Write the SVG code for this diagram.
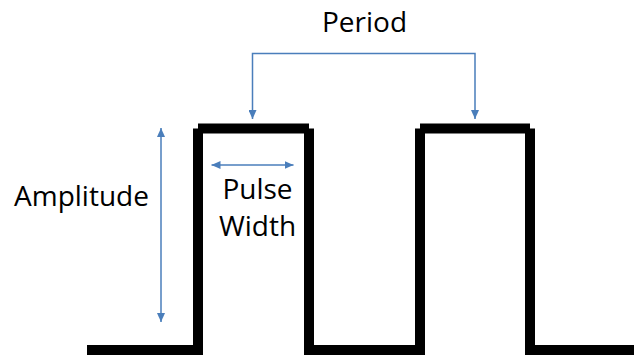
<svg xmlns="http://www.w3.org/2000/svg" width="634" height="356" viewBox="0 0 634 356">
  <style>
    .wave { stroke: #000; stroke-width: 10; stroke-linecap: butt; fill: none; }
    .dim { stroke: #4a7ebb; stroke-width: 1.5; fill: none; }
    .label { font-family: "Open Sans", "Liberation Sans", sans-serif; font-size: 28px; fill: #000; }
  </style>
  <defs>
    <marker id="tip" viewBox="0 0 9 8" refX="9" refY="4" markerWidth="9" markerHeight="8" markerUnits="userSpaceOnUse" orient="auto-start-reverse">
      <path d="M0,0 L9,4 L0,8 z" fill="#4a7ebb"/>
    </marker>
  </defs>

  <!-- square wave -->
  <g id="waveform">
    <line class="wave" x1="87" y1="350" x2="198" y2="350"/>
    <line class="wave" x1="198" y1="128.5" x2="198" y2="355"/>
    <line class="wave" x1="198" y1="128.5" x2="309" y2="128.5"/>
    <line class="wave" x1="309" y1="128.5" x2="309" y2="355"/>
    <line class="wave" x1="309" y1="350" x2="420" y2="350"/>
    <line class="wave" x1="420" y1="128.5" x2="420" y2="355"/>
    <line class="wave" x1="420" y1="128.5" x2="530" y2="128.5"/>
    <line class="wave" x1="530" y1="128.5" x2="530" y2="355"/>
    <line class="wave" x1="530" y1="350" x2="634" y2="350"/>
  </g>

  <!-- dimension connectors -->
  <g id="connectors">
    <path class="dim" d="M252.5,119 V53.5 H475 V119" marker-start="url(#tip)" marker-end="url(#tip)"/>
    <line class="dim" x1="161" y1="128" x2="161" y2="322" marker-start="url(#tip)" marker-end="url(#tip)"/>
    <line class="dim" x1="211.5" y1="165" x2="293.5" y2="165" marker-start="url(#tip)" marker-end="url(#tip)"/>
  </g>

  <g id="period">
    <text class="label" x="364.5" y="31.5" text-anchor="middle">Period</text>
  </g>
  <g id="amplitude">
    <text class="label" x="81.5" y="206" text-anchor="middle">Amplitude</text>
  </g>
  <g id="pulse-width">
    <text class="label" x="257.5" y="199" text-anchor="middle">Pulse</text>
    <text class="label" x="257.5" y="236" text-anchor="middle">Width</text>
  </g>
</svg>
